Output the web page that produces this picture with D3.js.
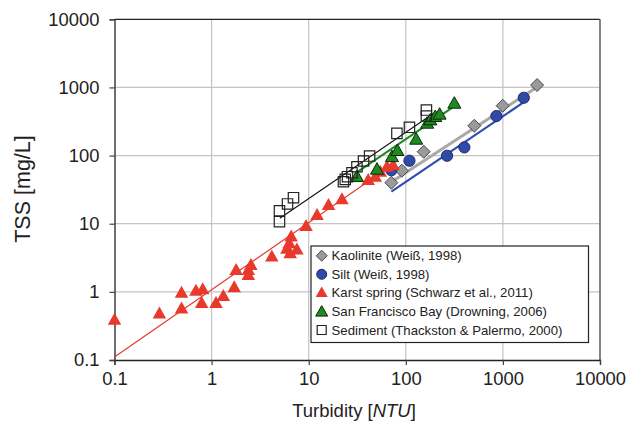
<!DOCTYPE html>
<html><head><meta charset="utf-8">
<script src="https://cdn.jsdelivr.net/npm/d3@7"></script>
<style>body{margin:0;background:#fff} svg{display:block} text{font-family:"Liberation Sans",Arial,Helvetica,sans-serif;fill:#222}</style>
</head><body><svg id="c" width="628" height="425"></svg>
<script>
// ---- data ----
const kaolinX = [71, 91, 153, 508, 995, 2250];
const kaolinY = [40, 60, 114, 274, 539, 1084];
const siltX = [71, 109, 266, 401, 857, 1640];
const siltY = [61, 84, 99.5, 132, 380, 706];
const karstX = [0.1, 0.29, 0.49, 0.49, 0.69, 0.81, 0.79, 1.11, 1.32, 1.71, 1.79, 2.39, 2.39, 2.54, 4.17, 5.96, 6.45, 7.56, 6.3, 6.6, 9.4, 12.2, 16, 22, 41, 48.5, 54.6, 64, 74];
const karstY = [0.39, 0.48, 0.57, 0.97, 1.04, 1.09, 0.69, 0.69, 0.87, 1.17, 2.09, 1.77, 2.09, 2.48, 3.3, 4.3, 3.7, 4.2, 5.16, 6.5, 9.25, 13.4, 18.8, 22.8, 44, 49, 58, 68.6, 73];
const sfX = [31.4, 50.5, 72, 82, 128, 166, 179, 201, 223, 316];
const sfY = [49, 62.8, 96, 118, 173, 297, 332, 372, 403, 584];
const sedX = [5.0, 5.0, 6.05, 6.97, 22.8, 23.8, 25.1, 27.9, 31.4, 36.7, 42.4, 81, 109, 163, 163];
const sedY = [10.7, 15.5, 19.5, 24.1, 41.3, 44.8, 49, 56, 68.6, 83.2, 98.5, 212, 260, 380, 466];
// regression lines (end points)
const kaolinFitX = [71, 2340], kaolinFitY = [41, 1050];
const siltFitX = [71, 1760], siltFitY = [29.5, 650];
const karstFitX = [0.1, 78], karstFitY = [0.111, 78.5];
const sfFitX = [30.2, 350], sfFitY = [54.9, 584];
const sedFitX = [5.05, 194], sedFitY = [12, 417];
const tickVals = [0.1, 1, 10, 100, 1000, 10000];
const tickLabels = ["0.1", "1", "10", "100", "1000", "10000"];
const legendLabels = ["Kaolinite (Weiß, 1998)", "Silt (Weiß, 1998)", "Karst spring (Schwarz et al., 2011)", "San Francisco Bay (Drowning, 2006)", "Sediment (Thackston & Palermo, 2000)"];

// ---- chart ----
const svg = d3.select("#c");
const L = 114.5, R = 600, T = 19.3, B = 360;
const x = d3.scaleLog().domain([0.1, 10000]).range([L, R]);
const y = d3.scaleLog().domain([0.1, 10000]).range([B, T]);

// grid
const grid = svg.append("g").attr("stroke", "#c4c4c4").attr("stroke-width", 1.2);
tickVals.slice(1, -1).forEach(v => {
  grid.append("line").attr("x1", x(v)).attr("x2", x(v)).attr("y1", T).attr("y2", B);
  grid.append("line").attr("y1", y(v)).attr("y2", y(v)).attr("x1", L).attr("x2", R);
});
// frame top/right
svg.append("line").attr("x1", L).attr("x2", R).attr("y1", T).attr("y2", T).attr("stroke", "#222").attr("stroke-width", 1.3);
svg.append("line").attr("x1", R).attr("x2", R).attr("y1", T).attr("y2", B).attr("stroke", "#666").attr("stroke-width", 1.6);

// axes
const fmt = d => tickLabels[tickVals.indexOf(d)];
const xa = svg.append("g").attr("transform", `translate(0,${B})`)
  .call(d3.axisBottom(x).tickValues(tickVals).tickFormat(fmt).tickSize(5).tickPadding(7));
const ya = svg.append("g").attr("transform", `translate(${L},0)`)
  .call(d3.axisLeft(y).tickValues(tickVals).tickFormat(fmt).tickSize(5).tickPadding(10));
[xa, ya].forEach(a => {
  a.select(".domain").attr("stroke", "#222").attr("stroke-width", 1.3);
  a.selectAll(".tick line").attr("stroke", "#444").attr("stroke-width", 1.2);
  a.selectAll("text").attr("font-size", 18.4).attr("fill", "#222").attr("font-family", "Liberation Sans, Arial, sans-serif");
});

// axis titles
const xt = svg.append("text").attr("x", 354).attr("y", 417).attr("text-anchor", "middle").attr("font-size", 18.5);
xt.append("tspan").text("Turbidity [");
xt.append("tspan").attr("font-style", "italic").text("NTU");
xt.append("tspan").text("]");
svg.append("text").attr("transform", "translate(30,189) rotate(-90)").attr("text-anchor", "middle").attr("font-size", 21.5).text("TSS [mg/L]");

// lines
const line = d3.line().x(d => x(d[0])).y(d => y(d[1]));
const drawFit = (xs, ys, color, w) => svg.append("path").attr("d", line(d3.zip(xs, ys))).attr("fill", "none").attr("stroke", color).attr("stroke-width", w);
drawFit(kaolinFitX, kaolinFitY, "#a8a8a8", 3);
drawFit(siltFitX, siltFitY, "#2f4db0", 2.2);
drawFit(karstFitX, karstFitY, "#e8392c", 1.2);
drawFit(sfFitX, sfFitY, "#1c8c1c", 2);
drawFit(sedFitX, sedFitY, "#111", 1.1);

// symbol paths
const diamond = s => `M0,${-s}L${s},0L0,${s}L${-s},0Z`;
const tri = (w, h) => `M0,${-h * 0.58}L${w / 2},${h * 0.42}L${-w / 2},${h * 0.42}Z`;
const square = s => `M${-s},${-s}H${s}V${s}H${-s}Z`;

function pts(xs, ys, path, fill, stroke, sw) {
  svg.append("g").selectAll("path").data(d3.zip(xs, ys)).join("path")
    .attr("transform", d => `translate(${x(d[0])},${y(d[1])})`)
    .attr("d", path).attr("fill", fill).attr("stroke", stroke).attr("stroke-width", sw);
}
pts(kaolinX, kaolinY, diamond(6.5), "#9a9a9a", "#4a4a4a", 1);
svg.append("g").selectAll("circle").data(d3.zip(siltX, siltY)).join("circle")
  .attr("cx", d => x(d[0])).attr("cy", d => y(d[1])).attr("r", 5.6)
  .attr("fill", "#2f4aa8").attr("stroke", "#1c2a66").attr("stroke-width", 1);
pts(karstX, karstY, tri(13.5, 12), "#e8392c", "none", 0);
pts(sfX, sfY, tri(13, 11.5), "#1f8a1f", "#0a2a0a", 1);
pts(sedX, sedY, square(5.2), "none", "#222", 1.2);

// legend
const lg = svg.append("g");
lg.append("rect").attr("x", 311).attr("y", 246).attr("width", 277.5).attr("height", 96.5).attr("fill", "#fff").attr("stroke", "#222").attr("stroke-width", 1.2);
const ly = [255.7, 274.3, 292.7, 311.7, 330];
const mk = [
  g => g.append("path").attr("d", diamond(5.5)).attr("fill", "#9a9a9a").attr("stroke", "#4a4a4a"),
  g => g.append("circle").attr("r", 5).attr("fill", "#2f4aa8").attr("stroke", "#1c2a66"),
  g => g.append("path").attr("d", tri(12, 10.5)).attr("fill", "#e8392c"),
  g => g.append("path").attr("d", tri(12, 10.5)).attr("fill", "#1f8a1f").attr("stroke", "#0a2a0a"),
  g => g.append("path").attr("d", square(4.5)).attr("fill", "#fff").attr("stroke", "#222").attr("stroke-width", 1.2)
];
legendLabels.forEach((t, i) => {
  const g = lg.append("g").attr("transform", `translate(321.7,${ly[i]})`);
  mk[i](g);
  lg.append("text").attr("x", 331.5).attr("y", ly[i]).attr("dy", "0.36em").attr("font-size", 13.2).text(t);
});
</script></body></html>
